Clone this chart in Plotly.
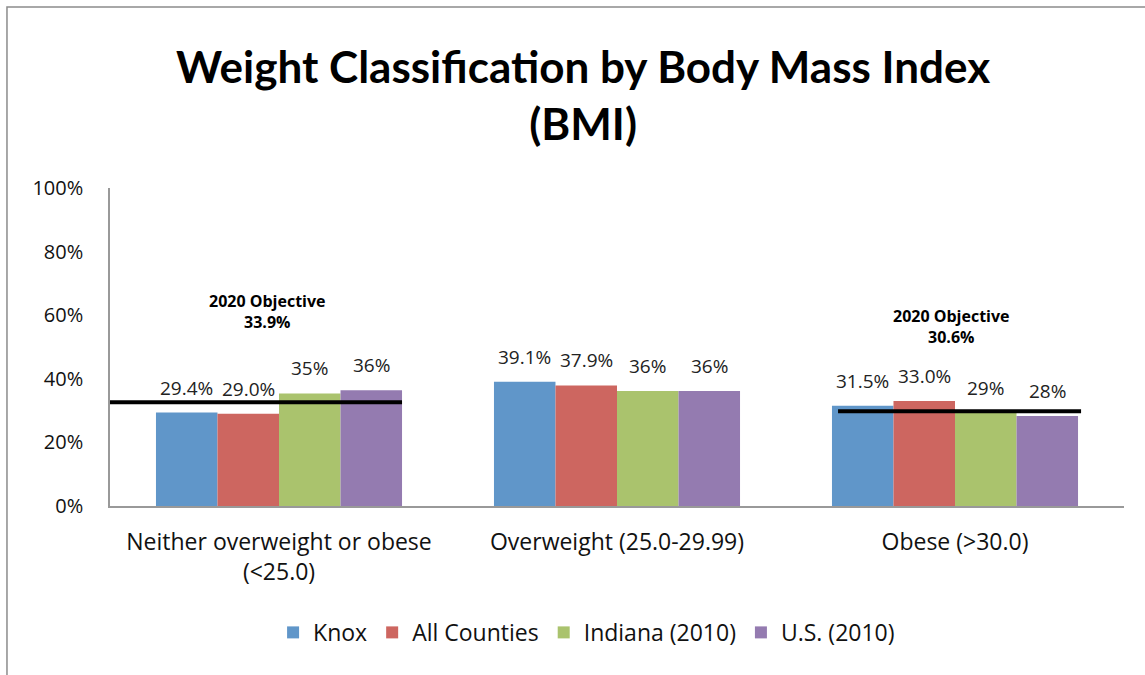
import plotly.graph_objects as go

categories = ["Neither overweight or obese<br>(<25.0)", "Overweight (25.0-29.99)", "Obese (>30.0)"]
series_names = ["Knox", "All Counties", "Indiana (2010)", "U.S. (2010)"]
knox = [29.4, 39.1, 31.5]
all_counties = [29.0, 37.9, 33.0]
indiana = [35.4, 36.2, 29.4]
us = [36.4, 36.2, 28.3]
knox_labels = ["29.4%", "39.1%", "31.5%"]
all_counties_labels = ["29.0%", "37.9%", "33.0%"]
indiana_labels = ["35%", "36%", "29%"]
us_labels = ["36%", "36%", "28%"]
colors = ["#6096C9", "#CD6660", "#AAC36D", "#947BB0"]

# 2020 objectives (as drawn), spans in category units
objective_levels = [32.6, 29.8]
objective_texts = ["2020 Objective<br>33.9%", "2020 Objective<br>30.6%"]
objective_x_start = [-0.5, 1.654]
objective_x_end = [0.364, 2.373]
objective_label_x = [-0.035, 1.99]
objective_label_y = [61.1, 56.4]

y_ticks = [0, 20, 40, 60, 80, 100]
y_tick_text = ["0%", "20%", "40%", "60%", "80%", "100%"]

FONT = "Open Sans"
BARGAP = 0.272

fig = go.Figure()
values = [knox, all_counties, indiana, us]
labels = [knox_labels, all_counties_labels, indiana_labels, us_labels]
for name, vals, col in zip(series_names, values, colors):
    fig.add_trace(go.Bar(
        x=categories, y=vals, name=name, marker_color=col,
        marker_line_width=0, hoverinfo="y",
    ))

# data labels positioned over each grouped bar
bar_w = (1 - BARGAP) / len(series_names)
for k, (vals, labs) in enumerate(zip(values, labels)):
    for i, (v, lab) in enumerate(zip(vals, labs)):
        fig.add_annotation(x=i + (k - (len(series_names) - 1) / 2) * bar_w, y=v,
                           xref="x2", yref="y", text=lab, showarrow=False,
                           xanchor="center", yanchor="bottom", yshift=10,
                           font=dict(family=FONT, size=19, color="#222"))

for y, x0, x1 in zip(objective_levels, objective_x_start, objective_x_end):
    fig.add_trace(go.Scatter(
        x=[x0, x1], y=[y, y], mode="lines", xaxis="x2",
        line=dict(color="black", width=4), showlegend=False, hoverinfo="skip",
        cliponaxis=False,
    ))

for tx, x, y in zip(objective_texts, objective_label_x, objective_label_y):
    fig.add_annotation(x=x, y=y, xref="x2", yref="y", text="<b>" + tx + "</b>",
                       showarrow=False, xanchor="center", yanchor="middle",
                       font=dict(family=FONT, size=16, color="black"))

fig.add_annotation(x=0.466, y=1.293, xref="paper", yref="paper",
                   text="<b>Weight Classification by Body Mass Index<br>(BMI)</b>",
                   showarrow=False, xanchor="center", yanchor="middle",
                   font=dict(family="Lato", size=44, color="black"))

# outer frame (top and left edges visible)
fig.add_shape(type="rect", xref="paper", yref="paper", x0=-0.1016, x1=1.2, y0=-0.8, y1=1.569,
              line=dict(color="#8c8c8c", width=1.5), fillcolor="rgba(0,0,0,0)")

fig.update_layout(
    width=1145, height=675,
    margin=dict(l=110, r=21, t=188, b=169),
    paper_bgcolor="white", plot_bgcolor="white",
    barmode="group", bargap=BARGAP, bargroupgap=0,
    font=dict(family=FONT, size=20, color="#111"),
    showlegend=True,
    legend=dict(orientation="h", x=0.47, xanchor="center", y=-0.33, yanchor="top",
                font=dict(family=FONT, size=23, color="#111"), itemwidth=30,
                traceorder="normal"),
    xaxis=dict(showline=True, linecolor="#999", linewidth=1.5, ticks="",
               tickfont=dict(family=FONT, size=23, color="#111"), showgrid=False,
               ticklabelstandoff=15),
    xaxis2=dict(overlaying="x", range=[-0.5, 2.5], visible=False),
    yaxis=dict(range=[0, 100], tickvals=y_ticks, ticktext=y_tick_text, showgrid=False,
               showline=True, linecolor="#999", linewidth=1.5, ticks="",
               tickfont=dict(family=FONT, size=20, color="#111"), zeroline=False,
               ticklabelstandoff=21),
)

fig.write_html("out.html", post_script="document.body.style.margin='0px';",
               config={"displayModeBar": False})
